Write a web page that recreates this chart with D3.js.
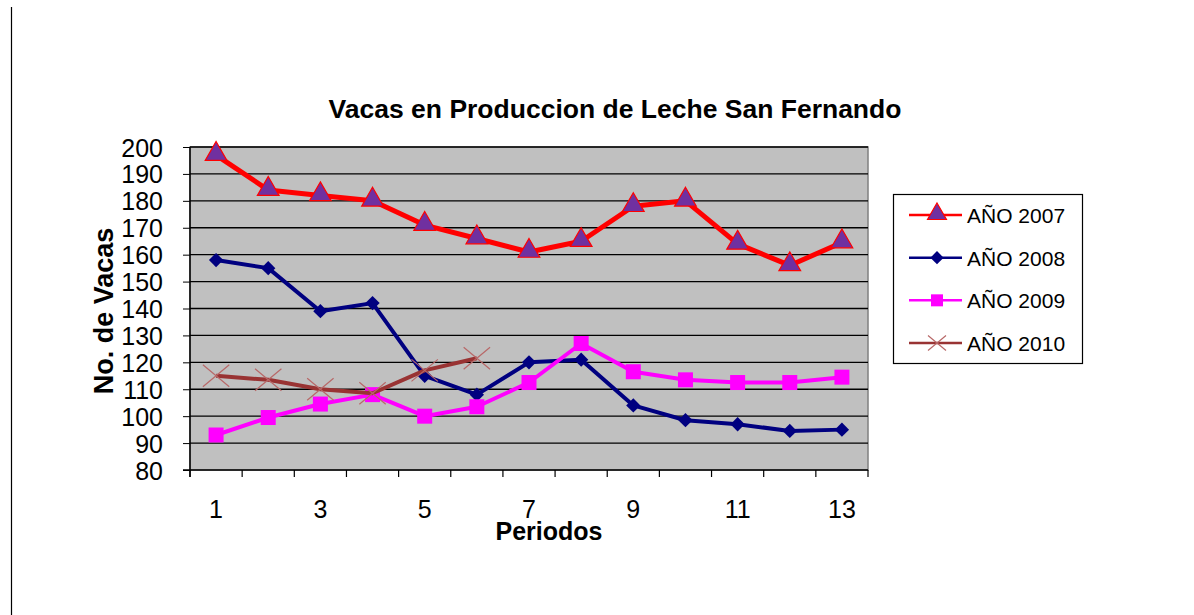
<!DOCTYPE html>
<html>
<head>
<meta charset="utf-8">
<script src="https://cdn.jsdelivr.net/npm/d3@7"></script>
<style>
  body { margin: 0; background: #fff; }
  svg { font-family: "Liberation Sans", Arial, sans-serif; }
</style>
</head>
<body>
<div id="chart"></div>
<script>
"use strict";

// data
var periodos = [1, 2, 3, 4, 5, 6, 7, 8, 9, 10, 11, 12, 13];
var anio2007 = [197, 184, 182, 180, 171, 166, 161, 165, 178, 180, 164, 156, 164.5];
var anio2008 = [158, 155, 139, 142, 115, 108, 120, 121, 104, 98.5, 97, 94.5, 95];
var anio2009 = [93, 99.5, 104.5, 108, 100, 103.5, 112.5, 127, 116.5, 113.5, 112.5, 112.5, 114.5];
var anio2010 = [115, 113.5, 110, 108.5, 117, 121.5];
var yTicks = [80, 90, 100, 110, 120, 130, 140, 150, 160, 170, 180, 190, 200];
var xLabels = [1, 3, 5, 7, 9, 11, 13];
var seriesNames = ["AÑO 2007", "AÑO 2008", "AÑO 2009", "AÑO 2010"];

var series = [
  {name: seriesNames[0], values: anio2007, color: "#ff0000", width: 5, marker: "triangle"},
  {name: seriesNames[1], values: anio2008, color: "#000080", width: 4, marker: "diamond"},
  {name: seriesNames[2], values: anio2009, color: "#ff00ff", width: 4, marker: "square"},
  {name: seriesNames[3], values: anio2010, color: "#993333", width: 4, marker: "cross"}
];

var W = 1194, H = 615;
var margin = {top: 147, left: 190},
    width = 678,
    height = 323;

var svg = d3.select("#chart").append("svg")
    .attr("width", W)
    .attr("height", H);

// page border line on the left
svg.append("line")
    .attr("x1", 11.5).attr("x2", 11.5)
    .attr("y1", 7).attr("y2", H)
    .attr("stroke", "#000").attr("stroke-width", 1.2);

var g = svg.append("g")
    .attr("transform", "translate(" + margin.left + "," + margin.top + ")");

var x = d3.scaleBand().domain(periodos).range([0, width]).padding(0);
var y = d3.scaleLinear().domain([80, 200]).range([height, 0]);
var cx = function(i) { return x(periodos[i]) + x.bandwidth() / 2; };

// plot background
g.append("rect")
    .attr("width", width).attr("height", height)
    .attr("fill", "#c0c0c0")
    .attr("stroke", "#808080").attr("stroke-width", 1.5);

// gridlines
g.selectAll(".grid")
    .data(yTicks.slice(1))
    .enter().append("line")
    .attr("x1", 0).attr("x2", width)
    .attr("y1", function(d) { return y(d); })
    .attr("y2", function(d) { return y(d); })
    .attr("stroke", "#000").attr("stroke-width", 1.3);

// y axis
var yAxis = g.append("g")
    .call(d3.axisLeft(y).tickValues(yTicks).tickSize(7).tickPadding(20));
yAxis.select(".domain").attr("stroke-width", 1.5).attr("d", "M0," + (height + 7) + "V0");
yAxis.selectAll("text").attr("font-size", 25).attr("fill", "#000").attr("dy", "0.36em")
    .attr("font-family", "Liberation Sans, Arial, sans-serif");

// x axis
var xAxis = g.append("g")
    .attr("transform", "translate(0," + height + ")");
xAxis.append("line")
    .attr("x1", -7).attr("x2", width)
    .attr("stroke", "#000").attr("stroke-width", 1.5);
xAxis.selectAll(".xtick")
    .data(periodos.concat(["end"]))
    .enter().append("line")
    .attr("x1", function(d) { return d === "end" ? width : x(d); })
    .attr("x2", function(d) { return d === "end" ? width : x(d); })
    .attr("y1", 0).attr("y2", 7)
    .attr("stroke", "#000").attr("stroke-width", 1.2);
xAxis.selectAll(".xlabel")
    .data(xLabels)
    .enter().append("text")
    .attr("x", function(d) { return x(d) + x.bandwidth() / 2; })
    .attr("y", 48)
    .attr("text-anchor", "middle")
    .attr("font-size", 25)
    .text(function(d) { return d; });

// lines
var line = d3.line()
    .x(function(d, i) { return cx(i); })
    .y(function(d) { return y(d); });

function drawMarker(sel, type, color, s) {
  if (type === "triangle") {
    sel.append("path")
      .attr("d", d3.symbol().type(d3.symbolTriangle).size(s * 12)())
      .attr("transform", "translate(0,-1)")
      .attr("fill", "#7030a0").attr("stroke", "#ff0000").attr("stroke-width", 1.2);
  } else if (type === "diamond") {
    sel.append("path")
      .attr("d", "M0," + (-s * 0.55) + "L" + (s * 0.55) + ",0L0," + (s * 0.55) + "L" + (-s * 0.55) + ",0Z")
      .attr("fill", "#000080");
  } else if (type === "square") {
    sel.append("rect")
      .attr("x", -s * 0.5).attr("y", -s * 0.5)
      .attr("width", s).attr("height", s)
      .attr("fill", "#ff00ff");
  } else {
    sel.append("path")
      .attr("d", "M" + (-s * 0.6) + "," + (-s * 0.5) + "L" + (s * 0.6) + "," + (s * 0.5) +
                 "M" + (-s * 0.6) + "," + (s * 0.5) + "L" + (s * 0.6) + "," + (-s * 0.5))
      .attr("stroke", "#b86868").attr("stroke-width", 1.2).attr("fill", "none");
  }
}

var markerSize = {triangle: 17, diamond: 13, square: 15, cross: 22};
var legendMarker = {triangle: 13, diamond: 12, square: 12, cross: 15};

series.forEach(function(s) {
  g.append("path")
    .datum(s.values)
    .attr("fill", "none")
    .attr("stroke", s.color)
    .attr("stroke-width", s.width)
    .attr("stroke-linejoin", "round")
    .attr("d", line);

  s.values.forEach(function(v, i) {
    var m = g.append("g").attr("transform", "translate(" + cx(i) + "," + y(v) + ")");
    drawMarker(m, s.marker, s.color, markerSize[s.marker]);
  });
});

// title and axis titles
svg.append("text")
    .attr("x", 615).attr("y", 118)
    .attr("text-anchor", "middle")
    .attr("font-size", 26.5).attr("font-weight", "bold")
    .text("Vacas en Produccion de Leche San Fernando");

svg.append("text")
    .attr("transform", "translate(113,311) rotate(-90)")
    .attr("text-anchor", "middle")
    .attr("font-size", 27).attr("font-weight", "bold")
    .text("No. de Vacas");

svg.append("text")
    .attr("x", 549).attr("y", 540)
    .attr("text-anchor", "middle")
    .attr("font-size", 25).attr("font-weight", "bold")
    .text("Periodos");

// legend
var legend = svg.append("g");
legend.append("rect")
    .attr("x", 893.5).attr("y", 194.5)
    .attr("width", 189).attr("height", 169)
    .attr("fill", "#fff").attr("stroke", "#000").attr("stroke-width", 1.2);

var legendY = d3.scalePoint().domain(seriesNames).range([215, 343]);
series.forEach(function(s) {
  var row = legend.append("g")
    .attr("transform", "translate(0," + legendY(s.name) + ")");
  row.append("line")
    .attr("x1", 909).attr("x2", 962)
    .attr("stroke", s.color).attr("stroke-width", 2.5);
  var m = row.append("g").attr("transform", "translate(937,0)");
  drawMarker(m, s.marker, s.color, legendMarker[s.marker]);
  row.append("text")
    .attr("x", 967).attr("y", 8)
    .attr("font-size", 21)
    .text(s.name);
});
</script>
</body>
</html>
